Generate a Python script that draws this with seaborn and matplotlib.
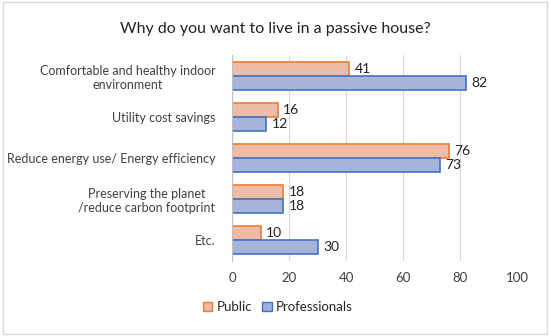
import matplotlib.pyplot as plt
import matplotlib.patches as mpatches
import pandas as pd
import seaborn as sns

reasons = ["Comfortable and healthy indoor\nenvironment",
           "Utility cost savings",
           "Reduce energy use/ Energy efficiency",
           "Preserving the planet\n/reduce carbon footprint",
           "Etc."]
public = [41, 16, 76, 18, 10]
professionals = [82, 12, 73, 18, 30]
groups = ["Public", "Professionals"]

df = pd.DataFrame({
    "reason": reasons * 2,
    "value": public + professionals,
    "group": ["Public"] * len(reasons) + ["Professionals"] * len(reasons),
})

sns.set_style("white")
plt.rcParams["font.family"] = ["Lato", "DejaVu Sans"]

fills = {"Public": "#F7B89B", "Professionals": "#9CB1E0"}
edges = {"Public": "#ED7D31", "Professionals": "#4472C4"}

fig = plt.figure(figsize=(5.5, 3.36), dpi=100)
ax = fig.add_axes([0.422, 0.223, 0.518, 0.613])

sns.barplot(data=df, x="value", y="reason", hue="group", hue_order=groups,
            palette=fills, orient="h", width=0.68, gap=0, ax=ax, legend=False)

for cont, g in zip(ax.containers, groups):
    for bar in cont:
        bar.set_edgecolor(edges[g])
        bar.set_linewidth(1.2)
    ax.bar_label(cont, padding=4, fontsize=10, color="#222222")

ax.set_xlim(0, 100)
ax.set_xticks(range(0, 101, 20))
ax.set_ylim(4.5, -0.5)
ax.set_xlabel("")
ax.set_ylabel("")
ax.grid(axis="x", color="#D9D9D9", linewidth=0.8)
ax.set_axisbelow(True)
for s in ["top", "right", "bottom"]:
    ax.spines[s].set_visible(False)
ax.spines["left"].set_color("#BFBFBF")
ax.tick_params(axis="x", length=0, labelsize=9.5, colors="#404040", pad=8)
ax.tick_params(axis="y", length=0, labelsize=9, colors="#404040", pad=12)
for lab in ax.get_yticklabels():
    lab.set_multialignment("center")

fig.text(0.5, 0.913, "Why do you want to live in a passive house?",
         ha="center", va="center", fontsize=11.5, color="#222222")

handles = [mpatches.Patch(facecolor=fills[g], edgecolor=edges[g], label=g) for g in groups]
fig.legend(handles=handles, loc="center", bbox_to_anchor=(0.505, 0.085), ncol=2,
           frameon=False, fontsize=9.5, handlelength=0.7, handleheight=0.7,
           handletextpad=0.3, columnspacing=0.8)

fig.patches.append(mpatches.Rectangle((0.005, 0.005), 0.99, 0.99, transform=fig.transFigure,
                                      fill=False, edgecolor="#D9D9D9", linewidth=1))

fig.savefig("out.png", dpi=100)
